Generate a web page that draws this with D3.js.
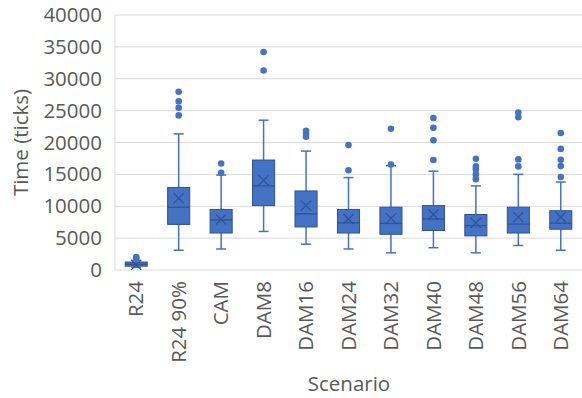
<!DOCTYPE html>
<html>
<head>
<meta charset="utf-8">
<script src="https://cdn.jsdelivr.net/npm/d3@7"></script>
<style>
  body { margin: 0; background: #fff; }
  text { font-family: "Open Sans", "Liberation Sans", sans-serif; fill: #595959; }
</style>
</head>
<body>
<svg id="chart" width="582" height="398"></svg>
<script>
var scenarios = ["R24", "R24 90%", "CAM", "DAM8", "DAM16", "DAM24", "DAM32", "DAM40", "DAM48", "DAM56", "DAM64"];
var whiskerLow  = [400, 3100, 3300, 6050, 4050, 3300, 2700, 3500, 2700, 3850, 3100];
var q1          = [600, 7150, 5800, 10100, 6750, 5800, 5600, 6200, 5350, 5800, 6400];
var median      = [900, 9850, 7850, 13200, 8800, 7400, 7300, 8000, 6950, 7200, 7350];
var q3          = [1250, 12950, 9500, 17250, 12400, 9500, 9850, 10100, 8700, 9850, 9300];
var whiskerHigh = [1500, 21350, 14900, 23500, 18650, 14500, 16350, 15500, 13200, 15000, 13800];
var means       = [800, 11250, 7950, 14050, 10100, 8000, 8100, 8700, 7400, 8300, 8300];
var outliers = [
  [1800, 2050],
  [24250, 25450, 26450, 27950],
  [15250, 16700],
  [31300, 34200],
  [20900, 21400, 21850],
  [15650, 19600],
  [16550, 22150],
  [17250, 20350, 22300, 23850],
  [14250, 15000, 15750, 16250, 17450],
  [16250, 17350, 23950, 24700],
  [14600, 16300, 17300, 19000, 21500]
];
var yTicks = [0, 5000, 10000, 15000, 20000, 25000, 30000, 35000, 40000];

var svg = d3.select("#chart");
var margin = {left: 115, top: 15, right: 0, bottom: 128};
var width = +svg.attr("width") - margin.left - margin.right;
var height = +svg.attr("height") - margin.top - margin.bottom;

var fill = "#4472C4", dark = "#2F528F";
var fontSize = "20.5px";

var x = d3.scaleBand().domain(scenarios).range([0, width]).paddingInner(0).paddingOuter(0);
var y = d3.scaleLinear().domain([0, 40000]).range([height, 0]);

var g = svg.append("g").attr("transform", "translate(" + margin.left + "," + margin.top + ")");

// gridlines
g.append("g").selectAll("line")
  .data(yTicks)
  .enter().append("line")
    .attr("x1", 0).attr("x2", width)
    .attr("y1", function(d) { return y(d); })
    .attr("y2", function(d) { return y(d); })
    .attr("stroke", "#d9d9d9")
    .attr("stroke-width", 1);

// left axis line
g.append("line")
  .attr("x1", 0).attr("x2", 0)
  .attr("y1", y(40000)).attr("y2", y(0))
  .attr("stroke", "#d9d9d9");

// y axis labels
var yAxis = g.append("g")
  .call(d3.axisLeft(y).tickValues(yTicks).tickSize(0).tickPadding(13).tickFormat(d3.format("d")));
yAxis.select(".domain").remove();
yAxis.selectAll("text")
  .style("font-family", "'Open Sans', 'Liberation Sans', sans-serif")
  .style("font-size", fontSize)
  .attr("fill", "#595959");

// x axis labels
var xAxis = g.append("g")
  .attr("transform", "translate(0," + height + ")")
  .call(d3.axisBottom(x).tickSize(0).tickPadding(0));
xAxis.select(".domain").remove();
xAxis.selectAll("text")
  .style("font-family", "'Open Sans', 'Liberation Sans', sans-serif")
  .style("font-size", fontSize)
  .attr("fill", "#595959")
  .attr("transform", "rotate(-90)")
  .attr("x", -11)
  .attr("y", 0)
  .attr("dy", "0.35em")
  .style("text-anchor", "end");

// boxes
var bw = x.bandwidth() * 0.52;
var idx = d3.range(scenarios.length);

var box = g.append("g").selectAll("g")
  .data(idx)
  .enter().append("g")
    .attr("transform", function(i) { return "translate(" + (x(scenarios[i]) + x.bandwidth() / 2) + ",0)"; });

// whiskers
box.append("line")
  .attr("x1", 0).attr("x2", 0)
  .attr("y1", function(i) { return y(q3[i]); })
  .attr("y2", function(i) { return y(whiskerHigh[i]); })
  .attr("stroke", fill).attr("stroke-width", 1.5);
box.append("line")
  .attr("x1", 0).attr("x2", 0)
  .attr("y1", function(i) { return y(q1[i]); })
  .attr("y2", function(i) { return y(whiskerLow[i]); })
  .attr("stroke", fill).attr("stroke-width", 1.5);
box.append("line")
  .attr("x1", -5).attr("x2", 5)
  .attr("y1", function(i) { return y(whiskerHigh[i]); })
  .attr("y2", function(i) { return y(whiskerHigh[i]); })
  .attr("stroke", fill).attr("stroke-width", 1.5);
box.append("line")
  .attr("x1", -5).attr("x2", 5)
  .attr("y1", function(i) { return y(whiskerLow[i]); })
  .attr("y2", function(i) { return y(whiskerLow[i]); })
  .attr("stroke", fill).attr("stroke-width", 1.5);

box.append("rect")
  .attr("x", -bw / 2)
  .attr("width", bw)
  .attr("y", function(i) { return y(q3[i]); })
  .attr("height", function(i) { return Math.max(y(q1[i]) - y(q3[i]), 3); })
  .attr("fill", fill)
  .attr("stroke", dark)
  .attr("stroke-width", 1);

// median
box.append("line")
  .attr("x1", -bw / 2).attr("x2", bw / 2)
  .attr("y1", function(i) { return y(median[i]); })
  .attr("y2", function(i) { return y(median[i]); })
  .attr("stroke", dark).attr("stroke-width", 1.2);

// mean marker (x)
var m = 5;
box.append("path")
  .attr("d", function(i) {
    var cy = y(means[i]);
    return "M" + (-m) + "," + (cy - m) + "L" + m + "," + (cy + m) +
           "M" + m + "," + (cy - m) + "L" + (-m) + "," + (cy + m);
  })
  .attr("stroke", dark).attr("stroke-width", 1.2).attr("fill", "none");

// outliers
box.selectAll("circle")
  .data(function(i) { return outliers[i]; })
  .enter().append("circle")
    .attr("cx", 0)
    .attr("cy", function(d) { return y(d); })
    .attr("r", 3.3)
    .attr("fill", fill);

// axis titles
svg.append("text")
  .attr("transform", "translate(28," + (margin.top + height / 2) + ") rotate(-90)")
  .attr("text-anchor", "middle")
  .style("font-size", fontSize)
  .text("Time (ticks)");

svg.append("text")
  .attr("x", 349)
  .attr("y", 391)
  .attr("text-anchor", "middle")
  .style("font-size", fontSize)
  .text("Scenario");
</script>
</body>
</html>
